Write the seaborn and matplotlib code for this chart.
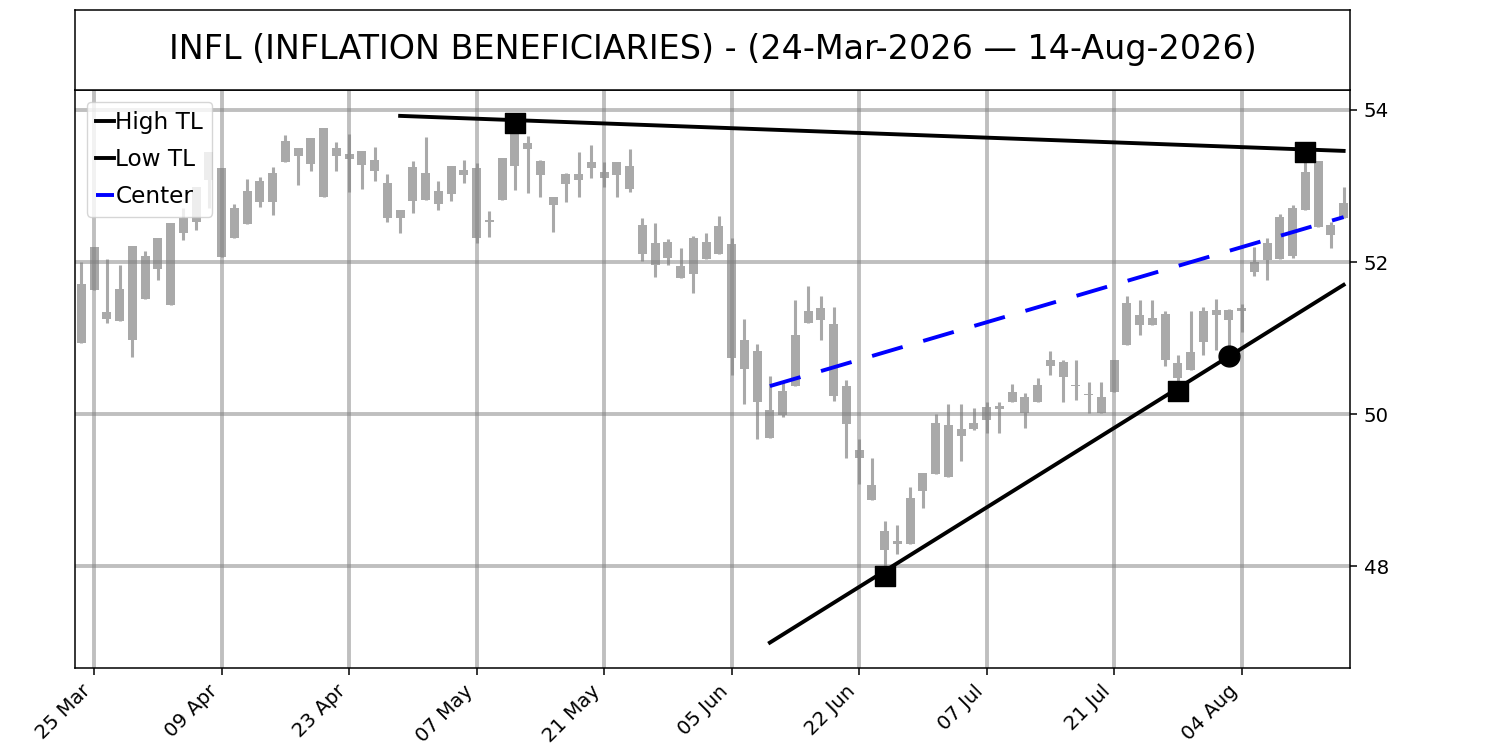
import numpy as np
import pandas as pd
import matplotlib
matplotlib.use("Agg")
import matplotlib.pyplot as plt
import seaborn as sns

TICKER = "INFL"
NAME = "INFLATION BENEFICIARIES"

# trading days (NYSE holidays removed)
holidays = ["2026-04-03", "2026-05-25", "2026-06-19", "2026-07-03"]
dates = pd.bdate_range("2026-03-24", "2026-08-14", freq="C", holidays=holidays)

opens = [50.93, 51.63, 51.34, 51.23, 50.97, 51.52, 51.91, 52.51, 52.38, 52.53,
         53.08, 53.23, 52.71, 52.50, 52.79, 52.79, 53.32, 53.50, 53.29, 53.76,
         53.39, 53.42, 53.46, 53.34, 53.04, 52.69, 52.80, 53.17, 52.93, 52.90,
         53.14, 53.24, 52.55, 52.82, 53.26, 53.48, 53.33, 52.85, 53.02, 53.08,
         53.23, 53.18, 53.14, 53.26, 52.49, 52.25, 52.05, 51.95, 51.84, 52.04,
         52.11, 52.24, 50.98, 50.83, 50.06, 49.99, 50.37, 51.20, 51.24, 51.18,
         50.37, 49.53, 49.07, 48.47, 48.30, 48.30, 48.99, 49.21, 49.86, 49.71,
         49.81, 49.92, 50.07, 50.16, 50.23, 50.16, 50.64, 50.68, 50.39, 50.27,
         50.23, 50.29, 50.91, 51.17, 51.27, 51.32, 50.67, 50.58, 50.95, 51.30,
         51.37, 51.36, 51.87, 52.03, 52.04, 52.08, 52.69, 53.33, 52.49, 52.58]
highs = [52.00, 52.20, 52.04, 51.96, 52.21, 52.14, 52.32, 52.51, 52.71, 52.99,
         53.45, 53.23, 52.76, 53.09, 53.12, 53.25, 53.67, 53.50, 53.63, 53.76,
         53.58, 53.68, 53.46, 53.51, 53.16, 52.69, 53.33, 53.64, 53.07, 53.26,
         53.34, 53.30, 52.67, 53.37, 53.86, 53.66, 53.34, 52.85, 53.17, 53.44,
         53.54, 53.31, 53.31, 53.49, 52.58, 52.51, 52.30, 52.19, 52.34, 52.38,
         52.61, 52.32, 51.25, 50.92, 50.50, 50.44, 51.50, 51.68, 51.55, 51.41,
         50.45, 49.67, 49.42, 48.60, 48.55, 49.04, 49.23, 50.00, 50.14, 50.14,
         50.08, 50.16, 50.16, 50.40, 50.28, 50.47, 50.83, 50.71, 50.71, 50.43,
         50.43, 50.71, 51.55, 51.50, 51.50, 51.35, 50.78, 51.35, 51.41, 51.51,
         51.38, 51.45, 52.20, 52.31, 52.63, 52.75, 53.45, 53.33, 52.53, 52.98]
lows = [50.93, 51.63, 51.20, 51.23, 50.75, 51.52, 51.76, 51.44, 52.29, 52.42,
        52.71, 52.07, 52.31, 52.50, 52.72, 52.62, 53.32, 53.01, 53.20, 52.85,
        53.19, 52.92, 52.96, 53.07, 52.52, 52.38, 52.64, 52.82, 52.68, 52.80,
        53.04, 52.25, 52.33, 52.82, 52.94, 52.91, 52.85, 52.39, 52.79, 52.85,
        53.10, 52.99, 52.85, 52.92, 52.01, 51.80, 51.96, 51.79, 51.59, 52.04,
        52.11, 50.52, 50.14, 49.67, 49.69, 49.97, 50.37, 51.20, 50.97, 50.17,
        49.43, 49.08, 48.88, 48.00, 48.17, 48.30, 48.77, 49.21, 49.17, 49.39,
        49.79, 49.75, 49.75, 50.16, 49.82, 50.16, 50.51, 50.16, 50.19, 50.01,
        50.01, 50.29, 50.91, 51.04, 51.17, 50.64, 50.30, 50.58, 50.78, 50.84,
        50.76, 51.08, 51.81, 51.77, 52.04, 52.05, 52.69, 52.46, 52.18, 52.58]
closes = [51.71, 52.20, 51.25, 51.65, 52.21, 52.08, 52.32, 51.44, 52.58, 52.99,
          53.45, 52.07, 52.31, 52.93, 53.07, 53.17, 53.59, 53.39, 53.63, 52.85,
          53.50, 53.36, 53.27, 53.19, 52.58, 52.58, 53.25, 52.82, 52.76, 53.26,
          53.21, 52.32, 52.52, 53.37, 53.69, 53.56, 53.14, 52.75, 53.15, 53.16,
          53.31, 53.10, 53.31, 52.96, 52.11, 51.96, 52.26, 51.79, 52.31, 52.26,
          52.47, 50.74, 50.59, 50.16, 49.69, 50.30, 51.04, 51.35, 51.40, 50.24,
          49.87, 49.42, 48.88, 48.22, 48.34, 48.90, 49.23, 49.89, 49.17, 49.80,
          49.89, 50.10, 50.11, 50.29, 50.01, 50.39, 50.71, 50.49, 50.37, 50.25,
          50.01, 50.71, 51.46, 51.30, 51.17, 50.71, 50.47, 50.82, 51.35, 51.37,
          51.24, 51.40, 52.00, 52.25, 52.59, 52.71, 53.18, 52.46, 52.36, 52.77]

# trend lines: (date, price) anchors
high_tl_dates = ["2026-04-29", "2026-08-14"]
high_tl_vals = [53.92, 53.46]
low_tl_dates = ["2026-06-10", "2026-08-14"]
low_tl_vals = [47.00, 51.70]
center_dates = ["2026-06-10", "2026-08-14"]
center_vals = [50.37, 52.59]

# pivot markers
pivot_sq_dates = ["2026-05-12", "2026-08-11", "2026-06-24", "2026-07-28"]
pivot_sq_vals = [53.82, 53.44, 47.88, 50.30]
pivot_ci_dates = ["2026-08-03"]
pivot_ci_vals = [50.76]


def to_idx(ds):
    return [dates.get_loc(pd.Timestamp(d)) for d in ds]


candle_color = "#a9a9a9"
x = np.arange(len(dates))
o = np.array(opens)
c = np.array(closes)
body_lo = np.minimum(o, c)
body_h = np.abs(c - o)

fig = plt.figure(figsize=(15, 7.5), dpi=100)
ax = fig.add_axes([0.05, 0.1097, 0.85, 0.7703])
tax = fig.add_axes([0.05, 0.88, 0.85, 0.1067])

# candles
ax.vlines(x, lows, highs, color=candle_color, linewidth=2.2, zorder=1)
ax.bar(x, body_h, bottom=body_lo, width=0.72, color=candle_color,
       linewidth=0, zorder=1)

# trend lines
sns.lineplot(x=to_idx(high_tl_dates), y=high_tl_vals, ax=ax, color="black",
             linewidth=2.8, label="High TL", zorder=3)
sns.lineplot(x=to_idx(low_tl_dates), y=low_tl_vals, ax=ax, color="black",
             linewidth=2.8, label="Low TL", zorder=3)
sns.lineplot(x=to_idx(center_dates), y=center_vals, ax=ax, color="blue",
             linewidth=2.8, linestyle=(0, (8.2, 5.5)), label="Center", zorder=3)

sns.scatterplot(x=to_idx(pivot_sq_dates), y=pivot_sq_vals, ax=ax, marker="s",
                s=225, color="black", edgecolor="black", linewidth=1,
                zorder=4, legend=False)
sns.scatterplot(x=to_idx(pivot_ci_dates), y=pivot_ci_vals, ax=ax, marker="o",
                s=225, color="black", edgecolor="black", linewidth=1,
                zorder=4, legend=False)

ax.set_xlim(-0.5, len(dates) - 0.5)
ax.set_ylim(46.67, 54.26)
ticks = x[1::10]
ax.set_xticks(ticks)
ax.set_xticklabels([dates[i].strftime("%d %b") for i in ticks],
                   rotation=45, ha="right", fontsize=14.2)
ax.set_yticks([48, 50, 52, 54])
ax.yaxis.tick_right()
ax.tick_params(axis="both", labelsize=14.2, length=4.9, width=1.1, pad=4.9)
for sp in ax.spines.values():
    sp.set_linewidth(1.1)
for sp in tax.spines.values():
    sp.set_linewidth(1.1)
ax.set_xlabel("")
ax.set_ylabel("")
ax.set_axisbelow("line")
ax.grid(True, color="gray", alpha=0.5, linewidth=2.8)

ax.legend(loc="upper left", fontsize=16.7, handlelength=0.76,
          handletextpad=0.08, labelspacing=0.6, borderpad=0.4)

title = (f"{TICKER} ({NAME}) - ({dates[0]:%d-%b-%Y} \u2014 "
         f"{dates[-1]:%d-%b-%Y})")
tax.set_xticks([])
tax.set_yticks([])
tax.text(0.5, 0.5, title, ha="center", va="center", fontsize=24,
         transform=tax.transAxes)

fig.savefig("out.png", dpi=100)
